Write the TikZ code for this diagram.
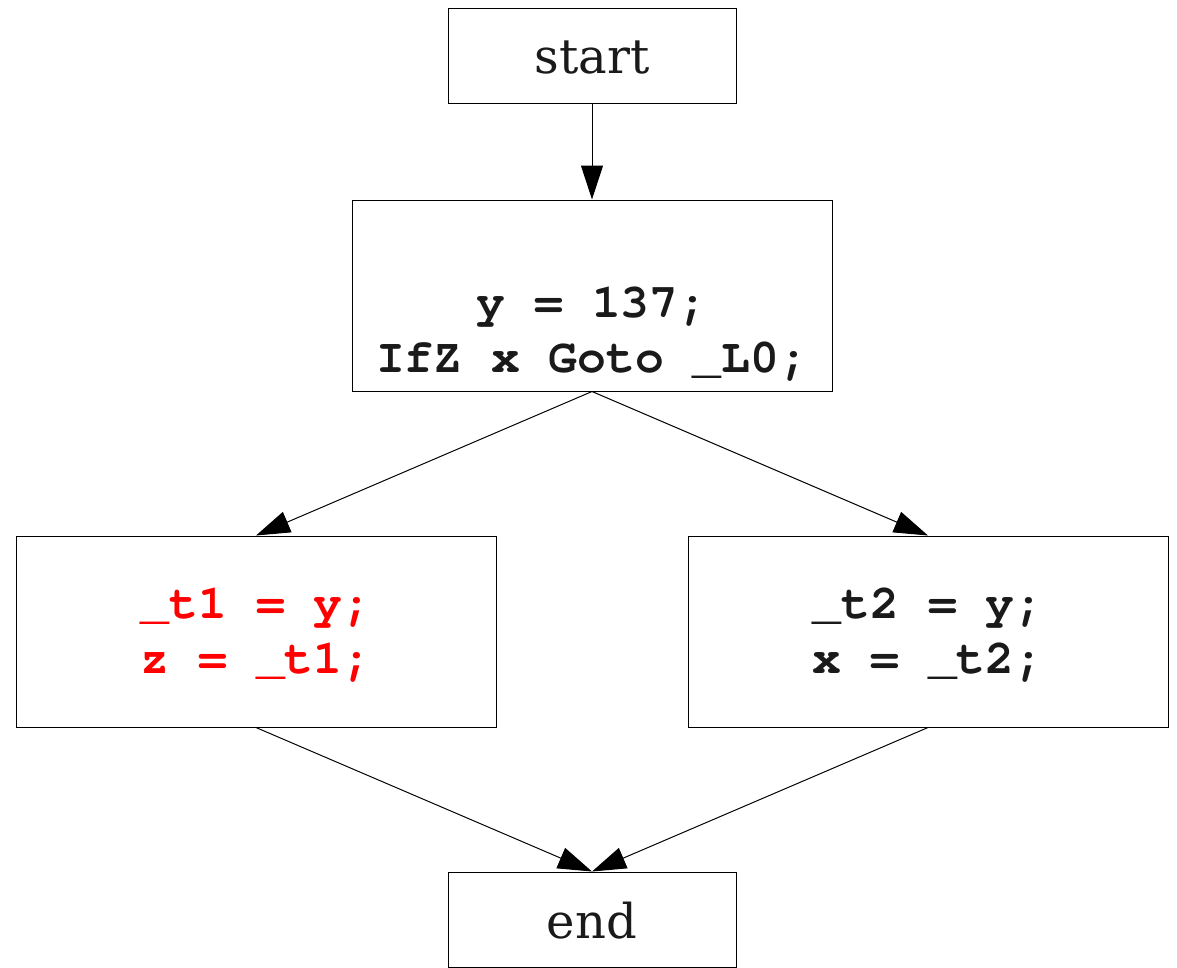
\documentclass[tikz,border=0pt]{standalone}
\usepackage{fontspec}
\setmainfont{DejaVu Serif}
\newfontfamily\codefont{texgyrecursor-bold.otf}
\usetikzlibrary{arrows.meta}
\definecolor{ink}{HTML}{1A1A1A}
\begin{document}
\begin{tikzpicture}[x=1pt,y=-1pt,
  smallbox/.style={draw, line width=1pt, inner sep=0pt, minimum width=288pt, minimum height=95pt,
    text=ink, font=\fontsize{48}{56}\selectfont, text height=35pt, text depth=0pt},
  bigbox/.style={draw, line width=1pt, inner sep=0pt, minimum width=480pt, minimum height=191pt,
    text=ink, align=center, font=\codefont\fontsize{48}{54.5}\selectfont, text depth=0pt},
  edge/.style={line width=1pt, -{Triangle[length=34pt,width=22pt]}}
]
\useasboundingbox (0,0) rectangle (1177,967);
\node[smallbox] (start) at (592,55.5) {start};
\node[bigbox, text height=153pt] (mid) at (592,295.5) {y = 137;\\IfZ x Goto \_L0;};
\node[bigbox, text height=83pt, text=red] (left) at (256,631.5) {\_t1 = y;\\z = \_t1;};
\node[bigbox, text height=83pt] (right) at (928,631.5) {\_t2 = y;\\x = \_t2;};
\node[smallbox, text height=37pt] (end) at (592,919.5) {end};
\draw[edge] (start.south) -- (mid.north);
\draw[edge] (mid.south) -- (left.north);
\draw[edge] (mid.south) -- (right.north);
\draw[edge] (left.south) -- (end.north);
\draw[edge] (right.south) -- (end.north);
\end{tikzpicture}
\end{document}
